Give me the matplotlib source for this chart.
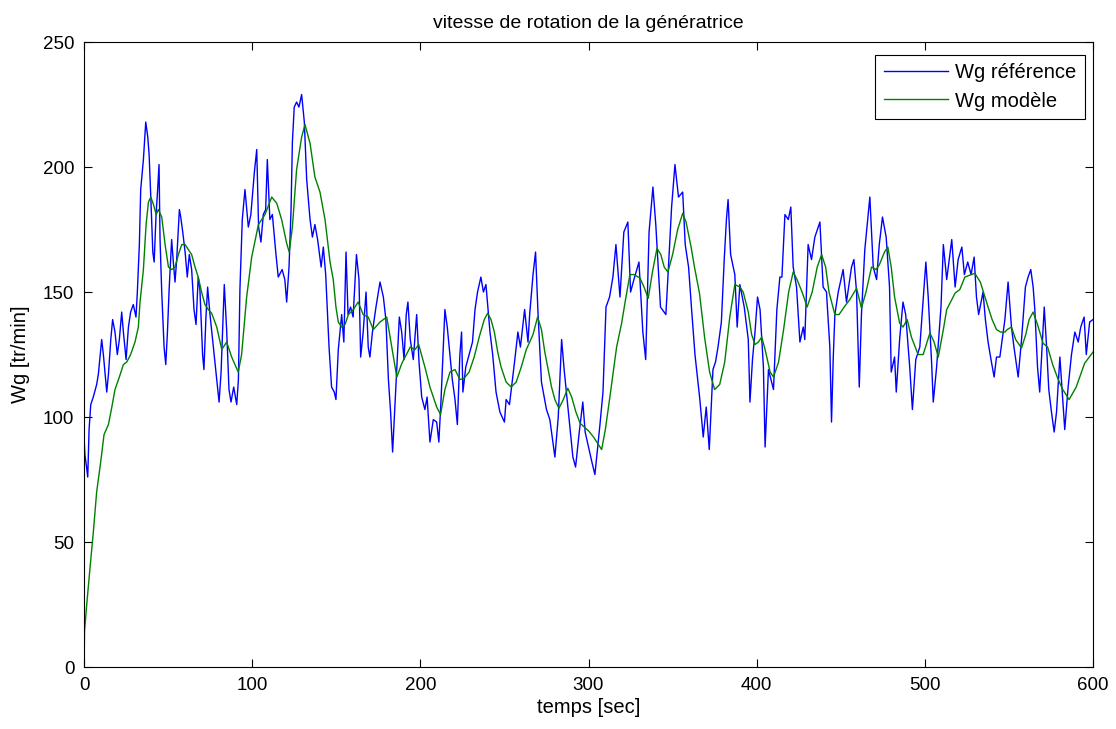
import matplotlib
matplotlib.use("Agg")
import matplotlib.pyplot as plt

# --- data ---
t_ref = [0, 0.5, 1.5, 2.2, 3, 4, 5.5, 7.5, 8.5, 10.5, 11.5, 13.5, 14.5, 15.9, 17, 18.4, 19.8, 21, 22.4, 23.4,
         25, 26.4, 27.7, 29.3, 30.9, 31.7, 32.9, 33.7, 35.3, 36.7, 37.9, 38.7, 39.7, 40.9, 41.7, 42.9, 43.6, 44.6,
         45.2, 46.2, 47.6, 48.6, 49.6, 50.6, 52.1, 53.1, 54.1, 55.1, 56.7, 57.5, 58.7, 60.1, 61.4, 62.6, 64, 65.4,
         66.6, 67.9, 68.9, 70.5, 71.3, 72.5, 73.5, 74.9, 76.9, 78.9, 80.3, 81.5, 83.4, 84.8, 86.2, 87.4, 89, 90.8,
         91.8, 92.7, 94.1, 95.7, 97.7, 99.2, 101.3, 102.7, 103.8, 105.2, 106.6, 108, 109, 110.5, 112, 114, 115.5,
         117.8, 119.4, 120.5, 121.9, 123.1, 123.9, 125, 126.4, 127.8, 129.4, 131, 132.4, 134.4, 135.8, 137.3,
         138.9, 141, 142.3, 143.7, 145.7, 147.2, 148.8, 149.8, 151.2, 153.2, 154.5, 155.8, 157, 158.5, 160, 162,
         163.5, 164.5, 166, 167.7, 169, 170, 171.5, 173.6, 176, 178, 179.5, 181, 182.3, 183.5, 184.7, 185.9,
         187.5, 188.9, 190.3, 191.6, 192.6, 194, 195.8, 197.8, 199.2, 200.8, 202.7, 204, 205.7, 207.7, 209.7,
         211, 212.3, 214.6, 216, 217.6, 219, 220.6, 222, 223.5, 224.5, 225.3, 227, 229, 231, 232.5, 234, 236,
         237.5, 239, 241.4, 243, 245, 247.3, 250, 251, 253, 256, 258, 259.5, 262, 264, 265, 267, 268.5, 270, 272,
         275, 277, 280, 282, 284, 285.5, 288, 290.7, 292.3, 294.5, 296.6, 298, 300, 302, 303.8, 306.8, 308.6,
         310.4, 312.5, 314.5, 316.3, 318.7, 321, 323.4, 325, 327, 330, 332.3, 334, 336, 338.3, 340, 342.8, 346,
         347.3, 349.4, 351.4, 353.5, 356, 357.5, 359.5, 361.3, 363.3, 366.2, 368.2, 370, 371.8, 374, 375.5, 377,
         379, 380.7, 382, 383, 384.5, 387, 388.4, 390, 392.6, 395, 396, 397.5, 399, 400.5, 402, 404, 405, 407,
         410, 412, 413.8, 415, 416.8, 418.8, 420.3, 421.7, 423.7, 425.7, 427.7, 428.6, 430.6, 432.6, 434.6,
         437.6, 439.5, 441.5, 443.5, 444.5, 445.5, 446.5, 448.5, 451.4, 453.4, 456.4, 457.8, 459.4, 461, 462.3,
         464.3, 466.3, 467.3, 469.3, 471.3, 472.9, 474.8, 477, 479, 480, 482, 483, 485, 487, 488.6, 491, 492.6,
         494.6, 497, 500.6, 502, 504, 505, 507, 509.6, 511, 513, 516, 518, 519.8, 522, 523.5, 525.5, 527.5,
         529.3, 530.7, 532, 534.6, 536, 537.6, 539.6, 541.2, 542.6, 544.6, 547.6, 549.5, 551.5, 553, 555.5,
         557.5, 559.8, 561.4, 563, 564.4, 565.4, 567, 568.3, 571, 572.4, 573.7, 575.3, 576.9, 578.3, 580.3,
         581.6, 583.2, 585.2, 587.2, 589.2, 591.2, 592.7, 594.7, 596, 598, 600]
wg_ref = [92, 85, 80, 76, 95, 105, 108, 113, 117, 131, 125, 110, 117, 131, 139, 134, 125, 131, 142, 134,
          123, 136, 142, 145, 140, 150, 169, 191, 203, 218, 212, 205, 188, 166, 162, 182, 189, 201,
          171, 150, 128, 121, 134, 151, 171, 162, 154, 163, 183, 180, 174, 166, 156, 165, 159, 143,
          137, 156, 151, 125, 119, 140, 152, 141, 128, 115, 106, 118, 153, 135, 111, 106, 112, 105,
          115, 151, 179, 191, 176, 181, 198, 207, 176, 170, 181, 183, 203, 179, 181, 166, 156,
          159, 155, 146, 160, 183, 210, 224, 226, 224, 229, 218, 195, 179, 172, 177,
          171, 160, 168, 157, 128, 112, 110, 107, 127, 141, 130, 166, 141, 144, 140, 165,
          155, 124, 134, 150, 128, 124, 134, 144, 154, 148, 139, 115, 102, 86, 102, 118,
          140, 134, 123, 141, 146, 131, 123, 141, 122, 108, 103, 108, 90, 99, 98,
          90, 107, 143, 136, 125, 115, 107, 97, 125, 134, 110, 120, 125, 130, 143, 150, 156,
          150, 153, 134, 125, 110, 102, 98, 107, 105, 122, 134, 128, 143, 130, 141, 157, 166, 141, 114,
          103, 99, 84, 100, 131, 119, 102, 84, 80, 94, 106, 94, 88, 82, 77, 97, 110,
          144, 148, 156, 169, 148, 174, 178, 150, 155, 162, 134, 123, 174, 192, 177, 144, 141,
          157, 184, 201, 188, 190, 169, 160, 143, 125, 107, 92, 104, 87, 119, 122, 128,
          138, 163, 179, 187, 165, 157, 136, 153, 144, 131, 106, 123, 134, 148, 143, 120, 88, 119,
          111, 143, 156, 156, 181, 179, 184, 160, 152, 130, 136, 131, 169, 163, 172,
          178, 152, 150, 128, 98, 123, 141, 150, 159, 146, 160, 163, 150, 112, 141,
          167, 181, 188, 160, 155, 169, 180, 172, 152, 118, 124, 110, 131, 146, 141, 120, 103,
          123, 128, 162, 148, 122, 106, 120, 144, 169, 155, 171, 152, 163, 168, 157, 162, 157,
          164, 148, 141, 150, 139, 130, 122, 116, 124, 124, 139, 154, 136, 128, 116,
          131, 152, 156, 159, 152, 143, 120, 110, 144, 128, 111, 102, 94, 102, 124,
          111, 95, 112, 125, 134, 130, 136, 140, 125, 138, 139]

t_mod = [0, 0.3, 1.6, 3.6, 5.6, 7.5, 9.9, 11.9, 14.5, 16.4, 18.4, 21, 23.4, 25.4, 27.7, 30.3, 32.3, 33.3, 35.3,
         36.9, 38.3, 39.7, 41.3, 42.9, 44.2, 46.2, 48.2, 50.2, 52.1, 54.1, 56.1, 58.1, 60.1, 62, 64, 66, 67.9,
         69.9, 71.9, 73.9, 75.9, 78.9, 81.9, 84.8, 87.8, 91.7, 93.7, 96.7, 99.7, 103.7, 107.6, 111.6, 114.6,
         117.5, 120.5, 122, 123.9, 126.4, 129.4, 131.4, 134.4, 137.3, 140.3, 143.3, 146.3, 148.2, 149.8, 151.2,
         153.2, 155.2, 157.2, 160.1, 163, 166, 169, 172, 176, 180, 183, 186, 189, 194, 196.8, 199, 202.7, 205.7,
         209.7, 212, 214.6, 217.6, 220.6, 223.5, 226, 229, 232, 235, 238, 240, 242, 244, 246, 248, 251, 254, 257,
         260, 263, 265, 267, 269.7, 272, 274, 276, 278, 280, 282.4, 285, 287.7, 290, 292.5, 295, 300, 303,
         307.8, 310, 312.7, 316.7, 319.7, 322, 324.6, 327, 330.6, 333, 335.5, 338, 340.7, 343, 345, 347.2, 350,
         353, 356, 358, 361, 363, 366, 369, 372, 375, 378, 381, 384, 387, 390, 392, 395, 397, 399, 401, 403, 405,
         408, 410, 413, 416, 419, 421.7, 424, 427, 430, 433, 436, 438.6, 441, 443, 446.5, 449, 452, 455.4, 459.4,
         462.3, 465, 468.3, 471, 473, 476, 478, 480, 482, 485, 487, 489.5, 492, 496, 499, 503, 505.5, 508, 511,
         513, 516, 518, 520.8, 523.8, 529.7, 533, 537.6, 540, 542.6, 545, 547.6, 549, 551.5, 554, 557.5, 560,
         562, 564.4, 567, 570.3, 573, 576, 579.3, 582, 585.8, 590, 595, 600]
wg_mod = [0, 14.5, 25, 40, 54.5, 70, 82, 93, 97, 103.5, 111, 116, 121, 122, 125, 130, 136, 146, 159,
          177, 186, 188, 185, 181, 183, 180, 169, 160, 159, 160, 165, 169, 169, 167, 165, 160, 156,
          150, 145, 143, 141.5, 136, 127, 130, 124, 118, 125, 148, 164, 177, 181, 188, 185.5,
          179, 169.5, 166, 176, 199, 212, 217, 209.5, 196, 190, 179, 162, 155, 144, 138,
          136, 137, 141, 143, 146, 141, 140, 135, 138, 140, 128, 116, 121.5, 128, 127, 129, 120, 112,
          104, 101, 111, 118, 119, 115, 115.5, 118, 124, 132, 139, 141.5, 139, 134, 126, 120, 114, 112, 114,
          120, 127, 130, 133, 140, 135, 126, 119, 112, 107, 103.5, 107, 111.5, 108, 102, 97.5, 94.5, 92,
          87, 95, 108, 128, 137.6, 147, 157, 157, 155.6, 152, 147.5, 158, 167.5, 165, 160, 158, 165,
          175, 181.5, 178, 168, 160, 149.5, 132, 118, 111, 113, 122, 140, 153, 152, 150, 142, 133, 129, 130, 132, 127,
          118, 116, 122, 135, 150, 158, 155, 150, 144, 150, 160, 165, 160, 150, 141, 141, 144, 147, 151.5,
          143.6, 150, 160, 159, 161, 166, 168, 160, 148, 137.6, 136, 139, 132, 125, 125, 133.6, 130, 124, 135,
          143, 147, 149.6, 151, 156, 157.5, 154, 144, 139, 135, 134, 134, 135, 136, 131, 127.6, 133,
          139, 142, 137, 129.5, 128, 121, 115, 111, 107, 112, 121.5, 126]

x_ticks = [0, 100, 200, 300, 400, 500, 600]
y_ticks = [0, 50, 100, 150, 200, 250]

plt.rcParams['font.family'] = ['Liberation Sans', 'DejaVu Sans']

fig = plt.figure(figsize=(11.16, 7.29), dpi=100)
ax = fig.add_axes([0.0753, 0.085, 0.9041, 0.8573])

ax.plot(t_ref, wg_ref, color=(0, 0, 1), lw=1.0, label='Wg référence')
ax.plot(t_mod, wg_mod, color=(0, 0.5, 0), lw=1.0, label='Wg modèle')

ax.set_xlim(0, 600)
ax.set_ylim(0, 250)
ax.set_xticks(x_ticks)
ax.set_yticks(y_ticks)
ax.tick_params(direction='in', length=6, width=0.8, top=True, right=True, labelsize=13.5, pad=7)
for s in ax.spines.values():
    s.set_linewidth(0.8)
ax.set_xlabel('temps [sec]', fontsize=14.5, labelpad=3)
ax.set_ylabel('Wg [tr/min]', fontsize=14.5, labelpad=9)
ax.set_title('vitesse de rotation de la génératrice', fontsize=14, pad=10)

leg = ax.legend(loc='upper right', fontsize=14.5, fancybox=False, framealpha=1,
                edgecolor='black', handlelength=3.2, handletextpad=0.35, borderpad=0.42,
                labelspacing=0.45, borderaxespad=0,
                bbox_to_anchor=(1085 / 1116, 1 - 55 / 729), bbox_transform=fig.transFigure)
leg.get_frame().set_linewidth(0.8)

fig.savefig('out.png', dpi=100)
